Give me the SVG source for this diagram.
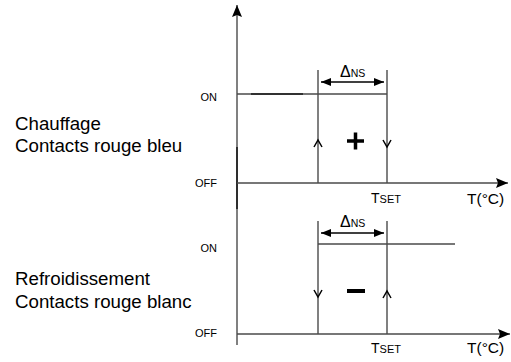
<svg xmlns="http://www.w3.org/2000/svg" width="511" height="362" viewBox="0 0 511 362">
<style>
.ln{stroke:#4a4a4a;stroke-width:1.4;fill:none}
.dk{stroke:#1a1a1a;stroke-width:1.6;fill:none}
.ch{stroke:#000;stroke-width:1.5;fill:none}
.t{font-family:"Liberation Sans",Arial,sans-serif;fill:#000}
.lab{font-size:18.7px}
.st{font-size:11px}
</style>
<defs>
<marker id="ah" viewBox="0 0 12 10" refX="12" refY="5" markerWidth="12" markerHeight="10" markerUnits="userSpaceOnUse" orient="auto">
<path d="M0,0 L12,5 L0,10 L2,5 Z" fill="#000"/>
</marker>
<marker id="dh" viewBox="0 0 10 8" refX="10" refY="4" markerWidth="10" markerHeight="8" markerUnits="userSpaceOnUse" orient="auto-start-reverse">
<path d="M0,0 L10,4 L0,8 Z" fill="#000"/>
</marker>
</defs>
<g id="connectors">
<line class="ln" x1="237" y1="345" x2="237" y2="5" marker-end="url(#ah)"/>
<line class="dk" x1="237" y1="147" x2="237" y2="209"/>
<line class="ln" x1="237" y1="183" x2="508" y2="183" marker-end="url(#ah)"/>
<line class="ln" x1="237" y1="334" x2="510" y2="334" marker-end="url(#ah)"/>
<line class="ln" x1="237" y1="94" x2="387" y2="94"/>
<line class="dk" x1="251" y1="94" x2="303" y2="94"/>
<line class="ln" x1="318" y1="70" x2="318" y2="183"/>
<line class="ln" x1="387" y1="70" x2="387" y2="183"/>
<line class="ln" x1="318" y1="244" x2="455" y2="244"/>
<line class="ln" x1="318" y1="221" x2="318" y2="334"/>
<line class="ln" x1="387" y1="221" x2="387" y2="334"/>
<line x1="321" y1="82" x2="384" y2="82" stroke="#000" stroke-width="1.3" marker-start="url(#dh)" marker-end="url(#dh)"/>
<line x1="321" y1="233" x2="384" y2="233" stroke="#000" stroke-width="1.3" marker-start="url(#dh)" marker-end="url(#dh)"/>
<polyline class="ch" points="314,147 318,140 322,147"/>
<polyline class="ch" points="383,140 387,147 391,140"/>
<polyline class="ch" points="314,290 318,297 322,290"/>
<polyline class="ch" points="383,298 387,291 391,298"/>
</g>
<g id="plus"><path d="M347,141 H364 M355.5,132.5 V149.5" stroke="#000" stroke-width="3.5"/></g>
<g id="minus"><path d="M347,291 H365" stroke="#000" stroke-width="4"/></g>
<g id="labels">
<text class="t lab" x="15" y="130">Chauffage</text>
<text class="t lab" x="15" y="152">Contacts rouge bleu</text>
<text class="t lab" x="15" y="285">Refroidissement</text>
<text class="t lab" x="15" y="308">Contacts rouge blanc</text>
<text class="t st" x="217" y="101" text-anchor="end">ON</text>
<text class="t st" x="217" y="187" text-anchor="end">OFF</text>
<text class="t st" x="217" y="252" text-anchor="end">ON</text>
<text class="t st" x="217" y="337" text-anchor="end">OFF</text>
<text class="t" x="340" y="77" font-size="16">Δ<tspan font-size="10.5">NS</tspan></text>
<text class="t" x="340" y="227" font-size="16">Δ<tspan font-size="10.5">NS</tspan></text>
<text class="t" x="371" y="203" font-size="14">T<tspan font-size="11">SET</tspan></text>
<text class="t" x="371" y="353" font-size="14">T<tspan font-size="11">SET</tspan></text>
<text class="t" x="467" y="204" font-size="15.5">T(°C)</text>
<text class="t" x="467" y="353" font-size="15.5">T(°C)</text>
</g>
</svg>
